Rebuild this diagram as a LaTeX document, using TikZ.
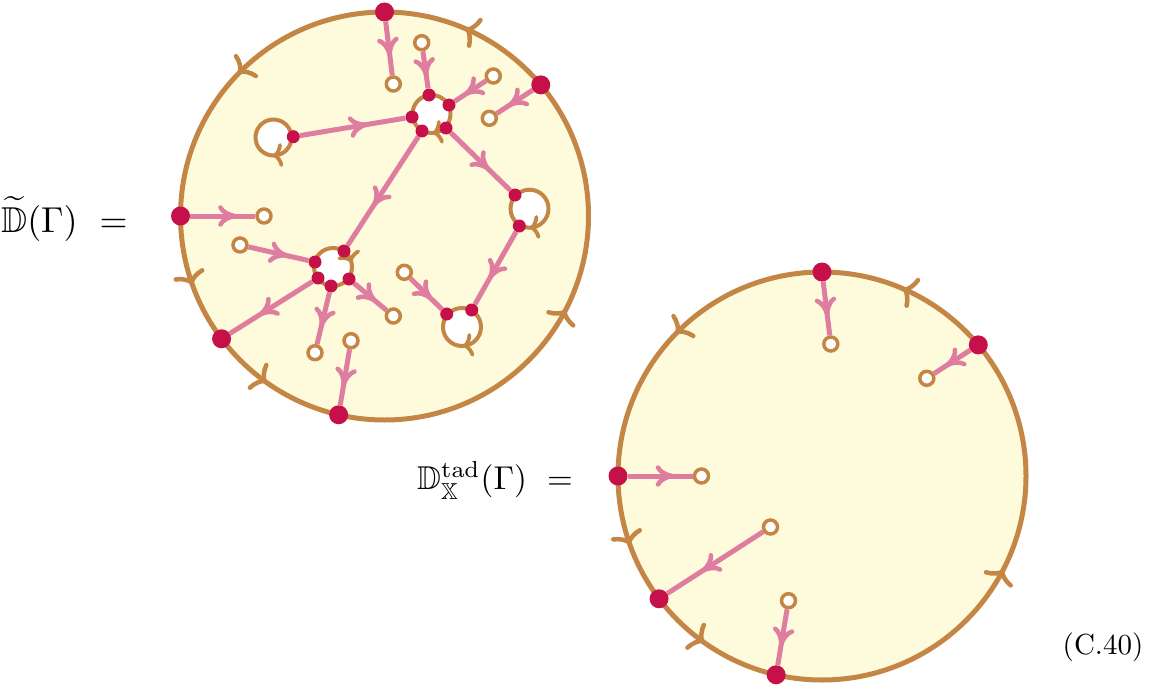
\documentclass[tikz,border=0pt]{standalone}
\usepackage{amssymb}
\usepackage{graphicx}
\usetikzlibrary{decorations.markings,calc}
\definecolor{discfill}{RGB}{254,250,220}
\definecolor{discedge}{RGB}{196,134,68}
\definecolor{edgepink}{RGB}{223,125,160}
\definecolor{dotred}{RGB}{197,16,74}
\pgfdeclarelayer{back}
\pgfdeclarelayer{mid}
\pgfsetlayers{back,mid,main}
% barbed heads (drawn in the local frame of a marking: x points along the path)
\newcommand\pinkbarb{\draw[edgepink,line width=4.5pt,line cap=round,line join=round]
  (-14pt,8.5pt) .. controls (-12pt,4pt) and (-5pt,0.8pt) .. (0pt,0pt)
  .. controls (-5pt,-0.8pt) and (-12pt,-4pt) .. (-14pt,-8.5pt);}
\newcommand\orangebarb{\draw[discedge,line width=4.5pt,line cap=round,line join=round]
  (-8pt,14pt) .. controls (-7pt,8pt) and (-3pt,1.5pt) .. (0pt,0pt)
  .. controls (-3pt,-1.5pt) and (-7pt,-8pt) .. (-8pt,-14pt);}
\newcommand\loopbarbhead{\draw[discedge,line width=3.8pt,line cap=round,line join=round]
  (-6pt,10pt) .. controls (-5.5pt,6pt) and (-2.5pt,1pt) .. (0pt,0pt)
  .. controls (-2.5pt,-1pt) and (-5.5pt,-6pt) .. (-6pt,-10pt);}
\tikzset{
  disc/.style={circle, draw=discedge, fill=discfill, line width=5pt, minimum size=408pt, inner sep=0pt},
  loopc/.style={circle, draw=discedge, fill=white, line width=4pt, minimum size=#1, inner sep=0pt},
  bigdot/.style={circle, fill=dotred, minimum size=19pt, inner sep=0pt},
  smalldot/.style={circle, fill=dotred, minimum size=13pt, inner sep=0pt},
  hollow/.style={circle, draw=discedge, fill=white, line width=3.5pt, minimum size=14pt, inner sep=0pt},
  flow/.style={draw=edgepink, line width=5pt, postaction={decorate},
    decoration={markings, mark=at position #1 with {\pinkbarb}}},
  flow/.default=0.62,
  carrier/.style={decorate, decoration={markings, mark=at position 0.5 with {#1}}},
  lbl/.style={inner sep=0pt},
}
\begin{document}
\begin{tikzpicture}[x=1pt,y=-1pt]
\useasboundingbox (0,0) rectangle (1153,685);
% ---------- discs ----------
\begin{pgfonlayer}{back}
\node[disc] (d1) at (384.5,216) {};
\node[disc] (d2) at (822,476) {};
\end{pgfonlayer}
% orientation barbs on the disc boundaries (angles measured clockwise on screen)
\foreach \a in {225,294,28,161,126}{
  \path[carrier=\orangebarb] ($(d1.center)+({\a+6}:204)$) arc[start angle=\a+6, end angle=\a-6, radius=204];
  \path[carrier=\orangebarb] ($(d2.center)+({\a+6}:204)$) arc[start angle=\a+6, end angle=\a-6, radius=204];
}
% loops
\node[loopc=36pt] (t1) at (273.5,137.5) {};
\node[loopc=38pt] (v1) at (431.5,114) {};
\node[loopc=38pt] (t2) at (529.5,208.7) {};
\node[loopc=38pt] (v2) at (333,267) {};
\node[loopc=38pt] (t3) at (462,327) {};
\path[carrier=\loopbarbhead] ($(t1.center)+(66:18)$) arc[start angle=66, end angle=106, radius=18];
\path[carrier=\loopbarbhead] ($(v1.center)+(61:19)$) arc[start angle=61, end angle=101, radius=19];
\path[carrier=\loopbarbhead] ($(t2.center)+(64:19)$) arc[start angle=64, end angle=104, radius=19];
\path[carrier=\loopbarbhead] ($(t3.center)+(61:19)$) arc[start angle=61, end angle=101, radius=19];
\path[carrier=\loopbarbhead] ($(v2.center)+(320:19)$) arc[start angle=320, end angle=360, radius=19];
% boundary dots
\node[bigdot] (b1) at ($(d1.center)+(270:204)$) {};
\node[bigdot] (b2) at ($(d1.center)+(320:204)$) {};
\node[bigdot] (b3) at ($(d1.center)+(180:204)$) {};
\node[bigdot] (b4) at ($(d1.center)+(143:204)$) {};
\node[bigdot] (b5) at ($(d1.center)+(103:204)$) {};
% small dots on loops
\node[smalldot] (t1d) at (293.3,136.7) {};
\node[smalldot] (v1a) at (429,95) {};
\node[smalldot] (v1b) at (449,105) {};
\node[smalldot] (v1c) at (412,117) {};
\node[smalldot] (v1d) at (422,131) {};
\node[smalldot] (v1e) at (446,128) {};
\node[smalldot] (t2a) at (515,195) {};
\node[smalldot] (t2b) at (519.3,226) {};
\node[smalldot] (v2a) at (344,251) {};
\node[smalldot] (v2b) at (315,262) {};
\node[smalldot] (v2c) at (318,278) {};
\node[smalldot] (v2d) at (331,286) {};
\node[smalldot] (v2e) at (349,279) {};
\node[smalldot] (t3a) at (446.7,314) {};
\node[smalldot] (t3b) at (471.7,310) {};
% hollow ends
\node[hollow] (h1) at (393.3,84) {};
\node[hollow] (ha) at (421.7,42.7) {};
\node[hollow] (hb) at (493.3,76) {};
\node[hollow] (h2) at (489.3,118.3) {};
\node[hollow] (h3) at (264,216) {};
\node[hollow] (hc) at (240,245) {};
\node[hollow] (hd) at (393.3,316) {};
\node[hollow] (he) at (315,352.7) {};
\node[hollow] (hf) at (351,340.7) {};
\node[hollow] (hg) at (404.3,272.3) {};
\begin{pgfonlayer}{mid}
\draw[flow=0.6] (b1) -- (h1);
\draw[flow] (ha) -- (v1a);
\draw[flow] (hb) -- (v1b);
\draw[flow] (b2) -- (h2);
\draw[flow] (t1d) -- (v1c);
\draw[flow] (v1e) -- (t2a);
\draw[flow] (t2b) -- (t3b);
\draw[flow] (v1d) -- (v2a);
\draw[flow=0.68] (b3) -- (h3);
\draw[flow] (hc) -- (v2b);
\draw[flow] (v2c) -- (b4);
\draw[flow] (v2d) -- (he);
\draw[flow] (v2e) -- (hd);
\draw[flow] (hf) -- (b5);
\draw[flow] (hg) -- (t3a);
\end{pgfonlayer}
% ---------- disc 2 ----------
\node[bigdot] (c1) at ($(d2.center)+(270:204)$) {};
\node[bigdot] (c2) at ($(d2.center)+(320:204)$) {};
\node[bigdot] (c3) at ($(d2.center)+(180:204)$) {};
\node[bigdot] (c4) at ($(d2.center)+(143:204)$) {};
\node[bigdot] (c5) at ($(d2.center)+(103:204)$) {};
\node[hollow] (k1) at (830.8,344) {};
\node[hollow] (k2) at (926.8,378.3) {};
\node[hollow] (k3) at (701.5,476) {};
\node[hollow] (k4) at (770.5,527) {};
\node[hollow] (k5) at (788.5,600.7) {};
\begin{pgfonlayer}{mid}
\draw[flow=0.6] (c1) -- (k1);
\draw[flow] (c2) -- (k2);
\draw[flow=0.68] (c3) -- (k3);
\draw[flow] (k4) -- (c4);
\draw[flow] (k5) -- (c5);
\end{pgfonlayer}
% ---------- labels ----------
\node[lbl] (l1) at (64.5,219) {\scalebox{3.6}{$\widetilde{\mathbb{D}}(\Gamma)\ =$}};
\node[lbl] (l2) at (495,480.5) {\scalebox{3.3}{$\mathbb{D}^{\mathrm{tad}}_{\mathbb{X}}(\Gamma)\ =$}};
\node[lbl] (eq) at (1103,647) {\scalebox{2.9}{(C.40)}};
\end{tikzpicture}
\end{document}
